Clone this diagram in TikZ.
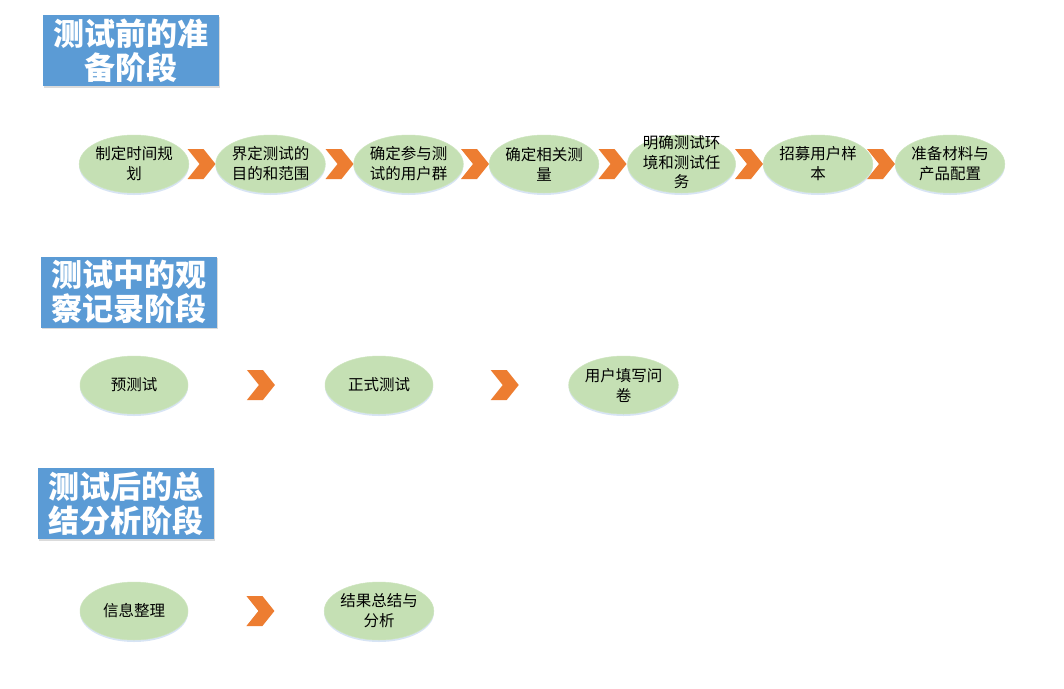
\documentclass[tikz,border=0pt]{standalone}
\usepackage{fontspec}
\setmainfont{Noto Sans CJK SC}
\usetikzlibrary{shapes.geometric,shadows,calc}
\definecolor{titleblue}{HTML}{5B9BD5}
\definecolor{ellgreen}{HTML}{C5E0B4}
\definecolor{chevorange}{HTML}{ED7D31}
\definecolor{glow}{HTML}{BDD3EE}
\tikzset{
  titlebox/.style={rectangle, fill=titleblue, minimum width=176pt, minimum height=71pt,
    inner sep=0pt, align=center, text=white,
    font=\fontsize{31}{34}\selectfont\bfseries,
    drop shadow={opacity=0.35, fill=black!40, shadow xshift=1pt, shadow yshift=-1.5pt}},
  stepell/.style={ellipse, fill=ellgreen, draw=ellgreen!85!white, line width=0.5pt,
    minimum width=108pt, minimum height=58pt, inner sep=0pt, align=center,
    font=\fontsize{15.5}{20}\selectfont, text=black,
    drop shadow={opacity=0.6, fill=glow, shadow xshift=0pt, shadow yshift=-2pt}},
  steptext/.style={inner sep=0pt, align=center, font=\fontsize{15.5}{19.5}\selectfont, text=black},
  chevfill/.style={fill=chevorange, draw=none},
  chev/.pic={\path[chevfill] (0,0) -- (-12,-15) -- (-28,-15) -- (-16,0) -- (-28,15) -- (-12,15) -- cycle;}
}
\begin{document}
\begin{tikzpicture}[x=1pt,y=-1pt]
\useasboundingbox (0,0) rectangle (1064,688);
\fill[white] (0,0) rectangle (1064,688);

% titles
\node[titlebox] (t1) at (131,50.5) {测试前的准\\备阶段};
\node[titlebox] (t2) at (128.5,292) {测试中的观\\察记录阶段};
\node[titlebox] (t3) at (126,503.5) {测试后的总\\结分析阶段};

% row 1 centres; chevrons drawn first so the ellipses overlap them
\coordinate (r1c2) at (270.5,164);
\coordinate (r1c3) at (408.5,164);
\coordinate (r1c4) at (544,164);
\coordinate (r1c5) at (681.5,164);
\coordinate (r1c6) at (818,164);
\coordinate (r1c7) at (950,164);
\foreach \c in {r1c2,r1c3,r1c4,r1c5,r1c6,r1c7}{
  \pic at ($(\c)+(-55,0)$) {chev};
}

% row 1
\node[stepell] (a1) at (134,164) {制定时间规\\划};
\node[stepell] (a2) at (r1c2) {界定测试的\\目的和范围};
\node[stepell] (a3) at (r1c3) {确定参与测\\试的用户群};
\node[stepell] (a4) at (r1c4) {确定相关测\\量};
\node[stepell] (a5) at (r1c5) {};
\node[steptext] (a5t) at ($(a5.center)+(0,-1.5)$) {明确测试环\\境和测试任\\务};
\node[stepell] (a6) at (r1c6) {招募用户样\\本};
\node[stepell] (a7) at (r1c7) {准备材料与\\产品配置};

% row 2
\node[stepell] (b1) at (134,385) {预测试};
\node[stepell] (b2) at (379,385) {正式测试};
\node[stepell] (b3) at (623.5,385) {用户填写问\\卷};
\pic at ($(b1.east)!0.635!(b2.west)$) {chev};
\pic at ($(b2.east)!0.632!(b3.west)$) {chev};

% row 3
\node[stepell] (c1) at (134,611) {信息整理};
\node[stepell] (c2) at (379,611) {结果总结与\\分析};
\pic at ($(c1.east)!0.635!(c2.west)$) {chev};
\end{tikzpicture}
\end{document}
